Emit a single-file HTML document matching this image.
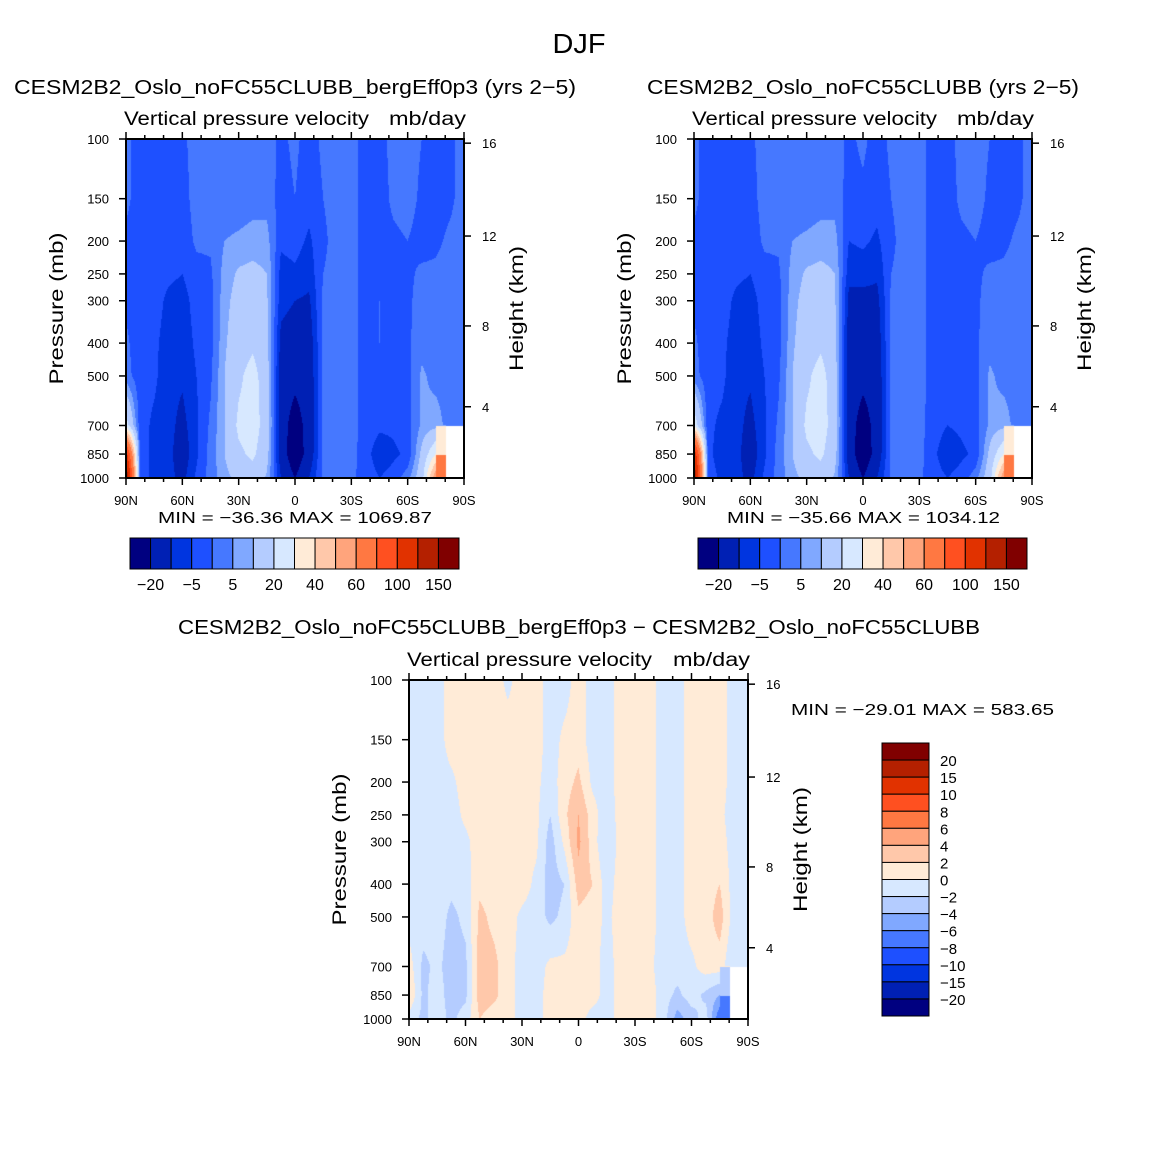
<!DOCTYPE html>
<html><head><meta charset="utf-8">
<style>
html,body{margin:0;padding:0;background:#fff;}
#wrap{position:relative;width:1158px;height:1158px;overflow:hidden;}
canvas{position:absolute;}
svg{position:absolute;left:0;top:0;}
text{font-family:"Liberation Sans","DejaVu Sans",sans-serif;fill:#000;}
</style></head>
<body>
<div id="wrap">
<canvas id="c1"></canvas>
<canvas id="c2"></canvas>
<canvas id="c3"></canvas>
<svg id="svg" width="1158" height="1158" xmlns="http://www.w3.org/2000/svg"></svg>
</div>
<script>
// ---- data ----
const lats = [90,82.5,75,67.5,60,52.5,45,37.5,30,22.5,15,7.5,0,-7.5,-15,-22.5,-30,-37.5,-45,-52.5,-60,-67.5,-75,-82.5,-90];
const plevs = [100,150,200,250,300,400,500,700,850,1000];
const colors = ["#000080","#0020b4","#0035e0","#1e50ff","#4678ff","#80a8ff","#b4ccff","#d7e8ff","#ffebd7","#ffc8aa","#ffa47c","#ff7842","#ff5020","#e13200","#b42000","#800000"];
const levelsAbs = [-20,-10,-5,0,5,10,20,30,40,50,60,80,100,125,150];
const cbLabelsAbs = ["−20","−5","5","20","40","60","100","150"];
const levelsDiff = [-20,-15,-10,-8,-6,-4,-2,0,2,4,6,8,10,15,20];
const cbLabelsDiff = ["−20","−15","−10","−8","−6","−4","−2","0","2","4","6","8","10","15","20"];
const pTicks = [100,150,200,250,300,400,500,700,850,1000];
const kmTicks = [16,12,8,4];
const latTicks = [90,60,30,0,-30,-60,-90];
const latTickLabels = ["90N","60N","30N","0","30S","60S","90S"];
// panel 1 (bergEff0p3), rows per latitude: 100..1000 mb
const field1 = [
[1,1,-1,-1,-1,1,2,25,110,150],
[-2,-2,-2,-2,-2,-3,-3,-3,-3,-3],
[-2,-2,-3,-3,-3,-4,-4,-6,-6,-6],
[-2,-3,-3,-4,-6,-7,-8,-8,-8,-8],
[-1,-2,-3,-5,-7,-8,-9,-12,-14,-12],
[2,2,1,-2,-3,-4,-5,-6,-6,-4],
[2,2,1,-1,-2,-2,-1,1,2,2],
[1,2,5,7,8,9,10,10,10,8],
[1,2,6,11,13,15,18,22,18,12],
[2,3,7,12,15,18,24,25,22,15],
[2,3,7,10,11,12,14,15,13,9],
[-1,-2,-4,-7,-8,-12,-14,-15,-14,-10],
[1,0,-3,-6,-10,-14,-17,-25,-28,-20],
[-2,-3,-6,-8,-11,-14,-15,-16,-15,-10],
[1,0,-1,0,1,1,1,1,1,1],
[2,2,2,2,2,2,2,2,2,2],
[2,2,2,2,2,2,2,2,2,1],
[-2,-2,-2,-2,-2,-2,-2,-2,-3,-2],
[-1,-2,-2,-1,0,0,-2,-4,-8,-5],
[1,1,-1,-1,-2,-2,-3,-4,-6,-3],
[2,2,0,-1,-1,-1,-2,-2,-4,3],
[0,-1,-2,1,2,3,6,6,12,15],
[-2,-2,-1,1,2,2,3,8,30,60],
[-1,-1,1,2,2,2,2,2,null,null],
[2,2,2,2,2,2,2,2,null,null]
];
// panel 2 (control)
const field2 = [
[1,1,-1,-1,-1,1,2,28,120,150],
[-2,-2,-2,-2,-2,-3,-3,-4,-4,-3],
[-2,-2,-3,-3,-3,-4,-4,-6,-7,-6],
[-2,-3,-3,-4,-6,-7,-8,-8,-8,-8],
[-1,-2,-3,-5,-7,-8,-9,-12,-14,-12],
[2,2,1,-2,-3,-4,-5,-6,-6,-4],
[2,2,1,-1,-2,-2,-1,1,2,2],
[1,2,5,7,8,9,10,10,10,8],
[1,2,6,11,13,15,18,22,18,12],
[2,3,7,12,15,18,24,25,22,15],
[2,3,7,10,11,12,14,15,13,9],
[-1,-2,-5,-8,-12,-13,-14,-15,-14,-10],
[1,-1,-4,-8,-12,-15,-17,-25,-28,-20],
[-2,-3,-6,-9,-12,-14,-15,-16,-15,-10],
[1,0,-1,0,1,1,1,1,1,1],
[2,2,2,2,2,2,2,2,2,2],
[2,2,2,2,2,2,2,2,2,1],
[-2,-2,-2,-2,-2,-2,-2,-3,-4,-3],
[-1,-2,-2,-2,-1,-1,-3,-5,-8,-5],
[1,1,-1,-1,-2,-2,-3,-4,-6,-3],
[2,2,0,-1,-1,-1,-2,-2,-4,3],
[0,-1,-2,1,2,3,6,6,12,15],
[-2,-2,-1,1,2,2,3,8,30,60],
[-1,-1,1,2,2,2,2,2,null,null],
[2,2,2,2,2,2,2,2,null,null]
];
// difference
const field3 = [
[-1,-1,-1,-1,-1,-1,-1,1,2,-1],
[-1,-1,-1,-1,-1,-1,-1,-2.5,-2.5,-2.5],
[-1,-1,-1,-1,-1,-1,-1,-1.5,-1,-1],
[1,1,-0.5,-1,-1,-1.5,-2.5,-3,-3,-2.5],
[1,1,1,0.5,-0.5,-1,-1.5,-2.5,-2.5,-1],
[1,1,1,1,1,1.5,2.5,3,3,2],
[1,1,1,1,1,1,1.5,2.5,2.5,1],
[-0.5,1,1,1,1,1,1,1,1,1],
[1,1,1,1,0.5,1,-0.5,-1,-1,-1],
[1,1,0.5,0.5,0.5,-0.5,-1,-1,-1,-1],
[-1,-1,-1,-2,-3,-3,-2.5,0.5,1,1],
[-1,0.5,1,1.5,0.5,-2,-1.5,0.5,1,1],
[1,1,2.5,4,4.5,3,1.5,1,1,1],
[-1,-1,-0.5,1,1,2,1,1,1,-1],
[-1,-1,-1,-1.5,-2,-1,-0.5,-1,-1,-1],
[1,1,1,1,1,1,1,1,1,1],
[1,1,1,1,1,1,1,1,1,1],
[1,1,1,1,1,1,1,0.5,1,1],
[-1,-1,-1,-1,-1,-1,-1,-1,-1,-1],
[-1,-1,-1,-1,-1,-1,-1,-1,-2.5,-5],
[1,1,1,1,1,1,1,-0.5,-1,-3],
[1,1,1,1,0.5,1,1,1,-2.5,-1],
[1,1,1,0.5,1,2,3,1,-4,-8],
[-1,-1,-1,-1,-1,-1,-1,-2,null,null],
[-1,-1,-1,-1,-1,-1,-1,-1,null,null]
];

// ---- helpers ----
const NS="http://www.w3.org/2000/svg";
const svg=document.getElementById('svg');
function el(tag,attrs,parent){const e=document.createElementNS(NS,tag);for(const k in attrs)e.setAttribute(k,attrs[k]);(parent||svg).appendChild(e);return e;}
function txt(s,x,y,size,anchor,name,extra){const t=el('text',Object.assign({x:x,y:y,'font-size':size,'text-anchor':anchor||'start'},extra||{}));t.textContent=s;


return t;}
function colorFor(v,levels){let i=0;while(i<levels.length&&v>=levels[i])i++;return colors[i];}
const logP=plevs.map(p=>Math.log10(p));
function stdP(z){return z<=11?1013.25*Math.pow(1-z/44.33,5.256):226.32*Math.exp(-(z-11)/6.3416);}

function drawField(canvasId,field,levels,X0,Y0,W,H){
  const cv=document.getElementById(canvasId);
  cv.width=W;cv.height=H;cv.style.left=X0+'px';cv.style.top=Y0+'px';
  const ctx=cv.getContext('2d');
  const img=ctx.createImageData(W,H);
  const rgb=colors.map(c=>[parseInt(c.slice(1,3),16),parseInt(c.slice(3,5),16),parseInt(c.slice(5,7),16)]);
  const nL=lats.length;
  for(let py=0;py<H;py++){
    const lp=2+(py+0.5)/H;
    let j=0;while(j<logP.length-2&&lp>logP[j+1])j++;
    let fy=(lp-logP[j])/(logP[j+1]-logP[j]);fy=Math.max(0,Math.min(1,fy));
    for(let px=0;px<W;px++){
      const lat=90-180*(px+0.5)/W;
      const fi=(lats[0]-lat)/(lats[0]-lats[1]);
      let i=Math.min(nL-2,Math.floor(fi));const fx=fi-i;
      const a=field[i][j],b=field[i+1][j],c=field[i][j+1],d=field[i+1][j+1];
      let v;
      if(a==null||b==null||c==null||d==null){
        const ni=fx<0.75?i:i+1,nj=fy<0.02?j:j+1;
        v=field[ni][nj];
      }else{
        v=a*(1-fx)*(1-fy)+b*fx*(1-fy)+c*(1-fx)*fy+d*fx*fy;
      }
      const k=(py*W+px)*4;
      if(v==null){img.data[k]=255;img.data[k+1]=255;img.data[k+2]=255;}
      else{const ci=colors.indexOf(colorFor(v,levels));const q=rgb[ci];img.data[k]=q[0];img.data[k+1]=q[1];img.data[k+2]=q[2];}
      img.data[k+3]=255;
    }
  }
  ctx.putImageData(img,0,0);
}

function axes(prefix,X0,Y0,W,H){
  const g=el('g',{});
  
  
  const yOf=p=>Y0+H*Math.log10(p/100);
  const xOf=lat=>X0+W*(90-lat)/180;
  el('rect',{x:X0,y:Y0,width:W,height:H,fill:'none',stroke:'#000','stroke-width':2},g);
  pTicks.forEach(p=>{const y=yOf(p);el('line',{x1:X0-7,x2:X0,y1:y,y2:y,stroke:'#000','stroke-width':1.5},g);
    txt(String(p),X0-17,y+5,13,'end',prefix+'-pressure-tick-label');});
  for(let lat=90;lat>=-90;lat-=10){const x=xOf(lat);const maj=lat%30===0;const L=maj?7:4;
    el('line',{x1:x,x2:x,y1:Y0+H,y2:Y0+H+L,stroke:'#000','stroke-width':1.5},g);
    el('line',{x1:x,x2:x,y1:Y0,y2:Y0-L,stroke:'#000','stroke-width':1.5},g);}
  latTicks.forEach((lat,i)=>txt(latTickLabels[i],xOf(lat),Y0+H+27,13,'middle',prefix+'-lat-tick-label'));
  kmTicks.forEach(z=>{const y=yOf(stdP(z));
    el('line',{x1:X0+W,x2:X0+W+7,y1:y,y2:y,stroke:'#000','stroke-width':1.5},g);
    txt(String(z),X0+W+18,y+5,13,'start',prefix+'-height-tick-label');});
  txt('Pressure  (mb)',0,0,19,'middle',prefix+'-y-axis-title',{transform:`translate(${X0-63},${Y0+H/2}) rotate(-90)`,textLength:152,lengthAdjust:'spacingAndGlyphs'});
  txt('Height  (km)',0,0,19,'middle',prefix+'-y2-axis-title',{transform:`translate(${X0+W+59},${Y0+H/2}) rotate(-90)`,textLength:125,lengthAdjust:'spacingAndGlyphs'});
  txt('Vertical  pressure  velocity',X0-2,Y0-14,19,'start',prefix+'-subtitle-left',{textLength:245,lengthAdjust:'spacingAndGlyphs'});
  txt('mb/day',X0+W+2,Y0-14,19,'end',prefix+'-subtitle-right',{textLength:77,lengthAdjust:'spacingAndGlyphs'});
}

function hColorbar(prefix,x0,y0,w,h){
  const n=colors.length,bw=w/n;
  colors.forEach((c,i)=>{const r=el('rect',{x:x0+i*bw,y:y0,width:bw,height:h,fill:c,stroke:'#000','stroke-width':1});
    
    });
  cbLabelsAbs.forEach((s,k)=>txt(s,x0+(2*k+1)*bw,y0+h+21,16,'middle',prefix+'-colorbar-label'));
}

// ---- render ----
drawField('c1',field1,levelsAbs,126,139,338,339);
drawField('c2',field2,levelsAbs,694,139,338,339);
drawField('c3',field3,levelsDiff,409,680,339,339);

txt('DJF',579,53,28,'middle','figure-title',{'font-weight':'300',textLength:53,lengthAdjust:'spacingAndGlyphs'});
txt('CESM2B2_Oslo_noFC55CLUBB_bergEff0p3  (yrs  2−5)',295,94,20,'middle','panel1-title',{textLength:562,lengthAdjust:'spacingAndGlyphs'});
txt('CESM2B2_Oslo_noFC55CLUBB  (yrs  2−5)',863,94,20,'middle','panel2-title',{textLength:432,lengthAdjust:'spacingAndGlyphs'});
txt('CESM2B2_Oslo_noFC55CLUBB_bergEff0p3  −  CESM2B2_Oslo_noFC55CLUBB',579,634,20,'middle','difference-title',{textLength:802,lengthAdjust:'spacingAndGlyphs'});

axes('panel1',126,139,338,339);
axes('panel2',694,139,338,339);
axes('difference',409,680,339,339);

txt('MIN  =  −36.36    MAX  =  1069.87',158,523,16,'start','panel1-min-max',{textLength:274,lengthAdjust:'spacingAndGlyphs'});
txt('MIN  =  −35.66    MAX  =  1034.12',727,523,16,'start','panel2-min-max',{textLength:273,lengthAdjust:'spacingAndGlyphs'});
txt('MIN  =  −29.01    MAX  =  583.65',791,715,16,'start','difference-min-max',{textLength:263,lengthAdjust:'spacingAndGlyphs'});

hColorbar('panel1',130,538,329,31);
hColorbar('panel2',698,538,329,31);

(function(){const x0=882,y0=743,w=47,h=273,n=colors.length,bh=h/n;
  colors.slice().reverse().forEach((c,i)=>{const r=el('rect',{x:x0,y:y0+i*bh,width:w,height:bh,fill:c,stroke:'#000','stroke-width':1});
    
    });
  cbLabelsDiff.slice().reverse().forEach((s,k)=>txt(s,x0+w+11,y0+(k+1)*bh+6,15,'start','difference-colorbar-label'));
})();
</script>
</body></html>
